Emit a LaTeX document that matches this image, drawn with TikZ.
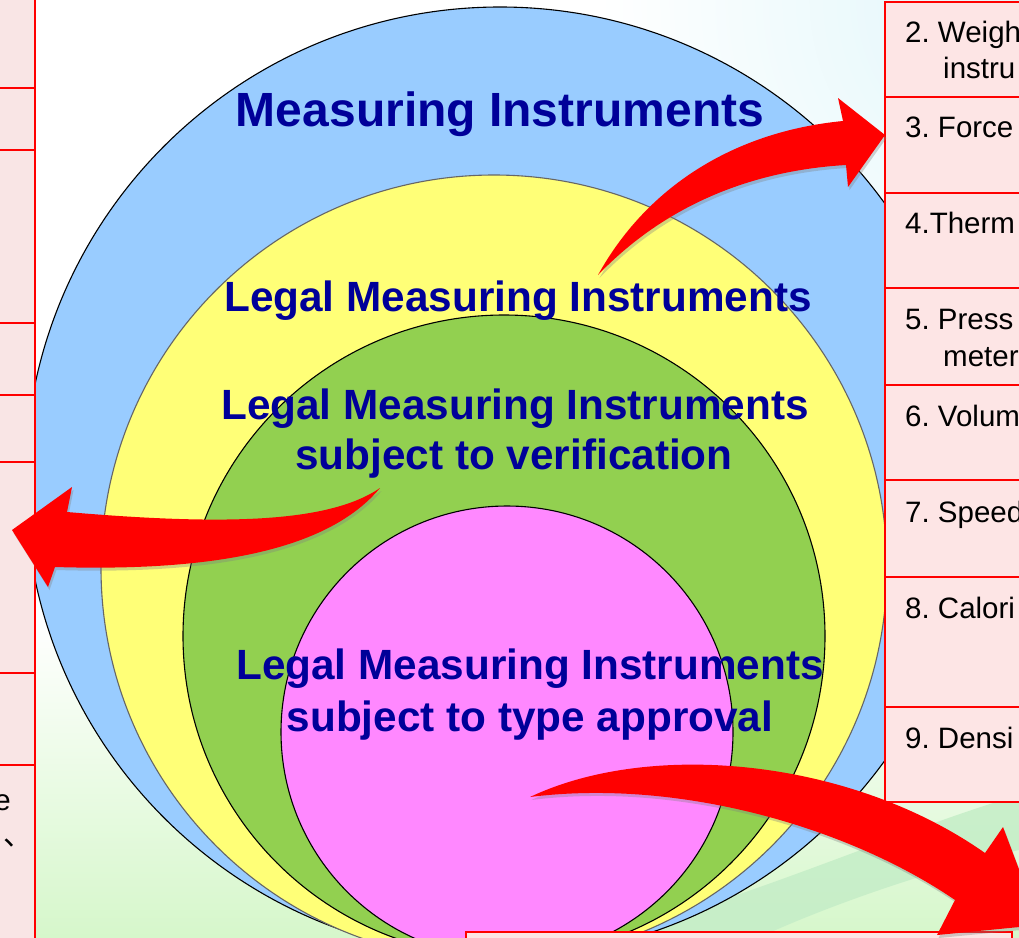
\documentclass[tikz,border=0pt]{standalone}
\usepackage{fontspec}
\setmainfont{Liberation Sans}
\newfontfamily\cjkfont{Noto Sans CJK SC}
\usetikzlibrary{shadows}
\frenchspacing
\definecolor{cblue}{HTML}{99CCFF}
\definecolor{cyellow}{HTML}{FFFF77}
\definecolor{cgreen}{HTML}{92D050}
\definecolor{cpink}{HTML}{FF88FF}
\definecolor{navy}{HTML}{000099}
\definecolor{cellpink}{HTML}{FDE5E5}
\definecolor{leftpink}{HTML}{F9E5E5}
\definecolor{bggreen}{HTML}{D6F7CB}
\definecolor{swoosh}{HTML}{C6EEC8}
\definecolor{skycyan}{HTML}{E0F6FA}
\definecolor{arrowred}{HTML}{FF0000}
\tikzset{
  ring/.style={circle, inner sep=0pt, draw=black, line width=1.1pt},
  cell/.style={draw=red, line width=2pt, fill=cellpink},
  lcell/.style={draw=red, line width=2pt, fill=leftpink},
  tabtext/.style={anchor=base west, inner sep=0pt, font=\fontsize{29.5}{32}\selectfont, text=black},
  bigtext/.style={anchor=base, inner sep=0pt, text=navy, font=\bfseries\fontsize{42.3}{46}\selectfont},
  blockarrow/.style={fill=arrowred, draw=none, drop shadow={opacity=0.35, shadow xshift=1.5pt, shadow yshift=-3pt}}
}
\begin{document}
\begin{tikzpicture}[x=1pt,y=-1pt]
\useasboundingbox (0,0) rectangle (1019,937);
\clip (0,0) rectangle (1019,937);
% background
\fill[white] (0,0) rectangle (1019,937);
\shade[top color=white, bottom color=bggreen] (0,620) rectangle (1019,937);
\shade[inner color=skycyan, outer color=white] (1019,0) circle[radius=420];
\fill[swoosh, opacity=0.9] (600,937) .. controls (760,895) and (900,830) .. (1019,795)
  -- (1019,850) .. controls (930,870) and (830,905) .. (760,937) -- cycle;
% nested circles
\node[ring, fill=cblue, minimum size=950pt] (outer) at (500,482) {};
\node[ring, fill=cyellow, draw=black!60, minimum size=786pt] (legal) at (494,568) {};
\node[ring, fill=cgreen, minimum size=642pt] (verif) at (504,636) {};
\node[ring, fill=cpink, minimum size=452pt] (typeap) at (507,732) {};
% left table
\draw[lcell] (-5,-5) rectangle (35,88);
\draw[lcell] (-5,88) rectangle (35,150);
\draw[lcell] (-5,150) rectangle (35,323);
\draw[lcell] (-5,323) rectangle (35,395);
\draw[lcell] (-5,395) rectangle (35,462);
\draw[lcell] (-5,462) rectangle (35,673);
\draw[lcell] (-5,673) rectangle (35,765);
\draw[lcell] (-5,765) rectangle (35,945);
\node[tabtext, anchor=base east] (le) at (11,810) {e};
\node[tabtext, font=\cjkfont\fontsize{29.5}{32}\selectfont] (lcomma) at (3,845) {、};
% right table
\draw[cell] (885,2) rectangle (1040,97);
\draw[cell] (885,97) rectangle (1040,193);
\draw[cell] (885,193) rectangle (1040,288);
\draw[cell] (885,288) rectangle (1040,385);
\draw[cell] (885,385) rectangle (1040,480);
\draw[cell] (885,480) rectangle (1040,577);
\draw[cell] (885,577) rectangle (1040,707);
\draw[cell] (885,707) rectangle (1040,802);
\node[tabtext] (r2) at (905,42) {2. Weigh};
\node[tabtext] (r2b) at (943,78) {instru};
\node[tabtext] (r3) at (905,137) {3. Force};
\node[tabtext] (r4) at (905,233) {4.Therm};
\node[tabtext] (r5) at (905,329) {5. Press};
\node[tabtext] (r5b) at (943,366) {meter};
\node[tabtext] (r6) at (905,426) {6. Volum};
\node[tabtext] (r7) at (905,522) {7. Speed};
\node[tabtext] (r8) at (905,618) {8. Calori};
\node[tabtext] (r9) at (905,748) {9. Densi};
% bottom box
\draw[cell] (466,932) rectangle (1012,960);
% circle labels
\node[bigtext, font=\bfseries\fontsize{48}{50}\selectfont] (t1) at (500,126) {Measuring Instruments};
\node[bigtext] (t2) at (518,311) {Legal Measuring Instruments};
\node[bigtext] (t3a) at (515,419) {Legal Measuring Instruments};
\node[bigtext] (t3b) at (514,469) {subject to verification};
\node[bigtext] (t4a) at (530,679) {Legal Measuring Instruments};
\node[bigtext] (t4b) at (530,731) {subject to type approval};
% red block arrows
\path[blockarrow] (598,275) .. controls (645,190) and (730,132) .. (843,121)
  -- (838,98) -- (885,135) -- (848,187) -- (846,165)
  .. controls (760,170) and (670,200) .. cycle;
\path[blockarrow] (380,488) .. controls (330,522) and (230,526) .. (67,512)
  -- (72,487) -- (12,530) -- (48,587) -- (55,567)
  .. controls (220,572) and (330,548) .. cycle;
\path[blockarrow] (530,797) .. controls (650,740) and (850,758) .. (985,853)
  -- (1003,827) -- (1040,925) -- (937,935) -- (955,900)
  .. controls (850,828) and (680,778) .. cycle;
\end{tikzpicture}
\end{document}
